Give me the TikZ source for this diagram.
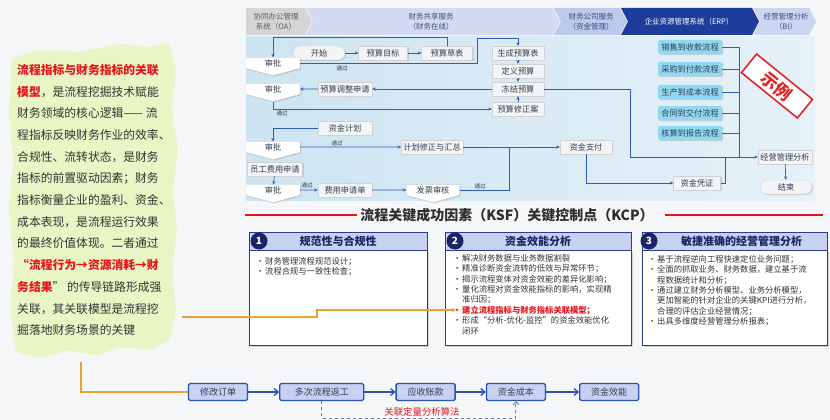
\documentclass[tikz,border=0pt]{standalone}
\usepackage{fontspec}
\setmainfont{Noto Sans CJK SC}
\usetikzlibrary{shapes.geometric, shapes.symbols, arrows.meta, positioning, calc, shadows}

\definecolor{bgpaper}{HTML}{F5F6F8}
\definecolor{greenblob}{HTML}{E9F5C4}
\definecolor{bodytext}{HTML}{333333}
\definecolor{keyred}{HTML}{E8141C}
\definecolor{panelA}{HTML}{CDE4F2}
\definecolor{panelB}{HTML}{E6F1F8}
\definecolor{hdrOA}{HTML}{D5D5D5}
\definecolor{hdrFS}{HTML}{D3DAF2}
\definecolor{hdrFC}{HTML}{BCC8EC}
\definecolor{hdrERP}{HTML}{1E3D9B}
\definecolor{hdrBI}{HTML}{CDD6F1}
\definecolor{hdrtext}{HTML}{3E4C7C}
\definecolor{flowblue}{HTML}{2F5DBA}
\definecolor{boxgray}{HTML}{F2F4F6}
\definecolor{boxtext}{HTML}{333F4F}
\definecolor{erpcyan}{HTML}{8FD9F3}
\definecolor{stampred}{HTML}{E0262B}
\definecolor{ksfnavy}{HTML}{1A2466}
\definecolor{ksfline}{HTML}{2C3C8C}
\definecolor{ksfheadfill}{HTML}{C9D1F0}
\definecolor{chainfill}{HTML}{C6D1F3}
\definecolor{chainline}{HTML}{2B52B3}
\definecolor{hintorange}{HTML}{F0A030}
\definecolor{dashblue}{HTML}{6B7FAF}

\newcommand{\ksfbul}{\makebox[9pt][l]{•}}
\newcommand{\ksfgap}{\hspace*{9pt}}

\begin{document}
\begin{tikzpicture}[x=1pt, y=-1pt, font=\fontsize{8.2}{10}\selectfont]
        \tikzstyle{fbox} = [rectangle, draw=gray!35, fill=boxgray, text=boxtext, minimum height=14, inner sep=2pt, drop shadow={shadow xshift=1pt, shadow yshift=-1pt, opacity=0.3}]
        \tikzstyle{pill} = [fbox, rounded corners=7pt]
        \tikzstyle{approve} = [shape=signal, signal to=south, signal pointer angle=150, draw=gray!35, fill=white, text=boxtext, minimum width=54, minimum height=12, inner sep=1.5pt, drop shadow={shadow xshift=1pt, shadow yshift=-1pt, opacity=0.3}]
        \tikzstyle{erpbox} = [rectangle, rounded corners=1.5pt, fill=erpcyan, text=boxtext, minimum width=64, minimum height=14, inner sep=2pt, drop shadow={shadow xshift=1pt, shadow yshift=-1pt, opacity=0.3}]
        \tikzstyle{passlbl} = [font=\fontsize{5.5}{6}\selectfont, text=bodytext, inner sep=0.5pt]
        \tikzstyle{hdrlbl} = [align=center, font=\fontsize{7.5}{9.5}\selectfont, text=hdrtext]
        \tikzstyle{flow} = [draw=flowblue, line width=0.7pt, -{Stealth[length=3.5pt, width=3.2pt]}]
        \tikzstyle{link} = [draw=flowblue, line width=0.7pt]
        \tikzstyle{ksfhead} = [rectangle, draw=ksfline, line width=0.9pt, fill=ksfheadfill, text=ksfnavy, minimum height=18, font=\bfseries\fontsize{11}{12}\selectfont]
        \tikzstyle{ksfbody} = [rectangle, draw=ksfline, line width=0.9pt, fill=white, drop shadow={shadow xshift=1.5pt, shadow yshift=-1.5pt, opacity=0.3}]
        \tikzstyle{ksftext} = [anchor=north west, align=left, inner sep=0pt, text=bodytext, font=\fontsize{8.3}{10.4}\selectfont]
        \tikzstyle{numdot} = [circle, fill=ksfnavy, text=white, minimum size=17, inner sep=0pt, font=\bfseries\fontsize{10}{10}\selectfont]
        \tikzstyle{chainbox} = [rectangle, rounded corners=1.5pt, draw=chainline, line width=1.3pt, fill=chainfill, text=boxtext, minimum width=59, minimum height=17, inner sep=2pt, font=\fontsize{9}{10}\selectfont]
        \tikzstyle{chain} = [draw=chainline, line width=1.3pt, -{Straight Barb[length=4pt, width=7pt]}]
        \tikzstyle{hint} = [draw=hintorange, line width=1.2pt]

        \useasboundingbox (0,0) rectangle (830,420);
        \fill[bgpaper] (0,0) rectangle (830,420);

        % left note
        \fill[greenblob, rounded corners=4pt] (12,58) -- (40,50) -- (80,52) -- (118,44) -- (150,47) -- (170,42) -- (176,70) -- (172,110) -- (178,150) -- (173,190) -- (177,230) -- (172,270) -- (176,310) -- (170,340) -- (150,350) -- (120,347) -- (96,356) -- (70,350) -- (40,358) -- (16,352) -- (10,310) -- (14,260) -- (9,210) -- (13,160) -- (9,110) -- cycle;
        \node (story) [anchor=north west, align=left, inner sep=0pt, text=bodytext, font=\fontsize{11.8}{21.7}\selectfont] at (17,64) {%
{\color{keyred}\bfseries 流程指标与财务指标的关联}\\
{\color{keyred}\bfseries 模型}，是流程挖掘技术赋能\\
财务领域的核心逻辑—— 流\\
程指标反映财务作业的效率、\\
合规性、流转状态，是财务\\
指标的前置驱动因素；财务\\
指标衡量企业的盈利、资金、\\
成本表现，是流程运行效果\\
的最终价值体现。二者通过\\
{\color{keyred}\bfseries “流程行为→资源消耗→财}\\
{\color{keyred}\bfseries 务结果}”\ 的传导链路形成强\\
关联，其关联模型是流程挖\\
掘落地财务场景的关键};

        % system panel
        \shade[left color=panelA, right color=panelB] (246,37) rectangle (815,200);
        \fill[hdrOA] (246,8) -- (305,8) -- (312,21.5) -- (305,35) -- (246,35) -- cycle;
        \fill[hdrFS] (306,8) -- (553,8) -- (560,21.5) -- (553,35) -- (306,35) -- (313,21.5) -- cycle;
        \fill[hdrFC] (554,8) -- (620,8) -- (627,21.5) -- (620,35) -- (554,35) -- (561,21.5) -- cycle;
        \fill[hdrERP] (621,8) -- (752,8) -- (759,21.5) -- (752,35) -- (621,35) -- (628,21.5) -- cycle;
        \fill[hdrBI] (753,8) -- (809,8) -- (816,21.5) -- (809,35) -- (753,35) -- (760,21.5) -- cycle;
        \node (hdroa) [hdrlbl, text=bodytext!80] at (276,21.5) {协同办公管理\\系统（OA）};
        \node (hdrfs) [hdrlbl] at (431,21.5) {财务共享服务\\（财务在线）};
        \node (hdrfc) [hdrlbl] at (591,21.5) {财务公司服务\\（资金管理）};
        \node (hdrerp) [hdrlbl, text=white] at (689,21.5) {企业资源管理系统（ERP）};
        \node (hdrbi) [hdrlbl] at (786,21.5) {经营管理分析\\（BI）};

        % budget flow
        \node (start) [pill, minimum width=52] at (319,53) {开始};
        \node (btarget) [fbox, minimum width=49] at (383,53) {预算目标};
        \node (bdraft) [fbox, minimum width=51] at (447,53) {预算草表};
        \node (bgen) [fbox, minimum width=52] at (518,53) {生成预算表};
        \node (bdef) [fbox, minimum width=52] at (518,71) {定义预算};
        \node (bfreeze) [fbox, minimum width=52] at (518,89) {冻结预算};
        \node (bamend) [fbox, minimum width=52] at (518,109) {预算修正案};
        \node (apv1) [approve] at (273,63) {审批};
        \node (apv2) [approve] at (273,89) {审批};
        \node (badjust) [fbox, minimum width=54] at (345,89) {预算调整申请};

        % fund flow
        \node (fplan) [fbox, minimum width=54] at (345,128) {资金计划};
        \node (apv3) [approve] at (273,147) {审批};
        \node (plansum) [fbox, minimum width=61] at (432,147) {计划修正与汇总};
        \node (staffreq) [fbox, minimum width=55] at (275,169) {员工费用申请};
        \node (apv4) [approve] at (273,190) {审批};
        \node (expform) [fbox, minimum width=54] at (345,190) {费用申请单};
        \node (invchk) [approve, minimum width=53] at (433,190) {发票审核};
        \node (fpay) [fbox, minimum width=52] at (586,147) {资金支付};
        \node (fvoucher) [fbox, minimum width=47] at (697,183) {资金凭证};

        % erp + bi
        \node (erp1) [erpbox] at (690,47) {销售到收款流程};
        \node (erp2) [erpbox] at (690,69) {采购到付款流程};
        \node (erp3) [erpbox] at (690,92) {生产到成本流程};
        \node (erp4) [erpbox] at (690,113) {合同到交付流程};
        \node (erp5) [erpbox] at (690,133) {核算到报告流程};
        \node (bizana) [fbox, minimum width=54] at (785,157) {经营管理分析};
        \node (finish) [pill, minimum width=52] at (786,187) {结束};
        \node (stamp) [draw=stampred, line width=1.6pt, fill=white, rotate=-39, minimum width=72, minimum height=24, inner sep=1pt, text=stampred, font=\bfseries\fontsize{17}{17}\selectfont] at (777,86) {示例};

        \node (pass1) [passlbl] at (342,68) {通过};
        \node (pass2) [passlbl] at (282,113) {通过};
        \node (pass3) [passlbl] at (337,143) {通过};
        \node (pass4) [passlbl] at (307,185) {通过};
        \node (pass5) [passlbl] at (480,186) {通过};

        \coordinate (rise) at (477,38);
        \coordinate (erpdrop) at (630,157);
        \coordinate (erpbus) at (739,157);
        \coordinate (invjoin) at (509,147);
        \coordinate (vjoin) at (725,157);

        \draw [flow] (bdraft.north) -- ++(0,-8) -| (apv1.north);
        \draw [flow] (apv1.east) -| (rise) -| (bgen.north);
        \draw [flow] (start) -- (btarget);
        \draw [flow] (btarget) -- (bdraft);
        \draw [flow] (bgen) -- (bdef);
        \draw [flow] (bdef) -- (bfreeze);
        \draw [flow] (bamend) -- (bfreeze);
        \draw [flow] (bfreeze) -- (badjust);
        \draw [flow] (badjust) -- (apv2);
        \draw [flow] (apv2.south) |- (bamend.west);
        \draw [flow] (bfreeze.east) -| (erpdrop) -- (bizana.west);
        \foreach \i in {1,...,5}
            \draw [link] (erp\i.east) -| (erpbus);
        \draw [flow] (fplan.west) -| (apv3.north);
        \draw [flow] (apv3) -- (plansum);
        \draw [flow] (plansum) -- (fpay);
        \draw [link] (invchk.east) -| (invjoin);
        \draw [flow] (staffreq) -- (apv4);
        \draw [flow] (apv4) -- (expform);
        \draw [flow] (expform) -- (invchk);
        \draw [flow] (fpay.south) |- (fvoucher.west);
        \draw [link] (fvoucher.east) -| (vjoin);
        \draw [flow] (bizana) -- (finish);

        % KSF / KCP
        \node (title) [text=bodytext!90!black, font=\bfseries\fontsize{14}{16}\selectfont] at (507,215) {流程关键成功因素（KSF）关键控制点（KCP）};
        \draw [draw=keyred, line width=1.3pt] (245,215) -- (357,215);
        \draw [draw=keyred, line width=1.3pt] (665,215) -- (823,215);

        \node (ksf1body) [ksfbody, minimum width=178, minimum height=95, anchor=north] at (338,250) {};
        \node (ksf2body) [ksfbody, minimum width=186, minimum height=95, anchor=north] at (538,250) {};
        \node (ksf3body) [ksfbody, minimum width=185, minimum height=95, anchor=north] at (734.5,250) {};
        \node (ksf1head) [ksfhead, minimum width=178] at (338,241) {规范性与合规性};
        \node (ksf2head) [ksfhead, minimum width=186] at (538,241) {资金效能分析};
        \node (ksf3head) [ksfhead, minimum width=185] at (734.5,241) {\hspace{14pt}敏捷准确的经营管理分析};
        \node (ksf1num) [numdot] at (259,241) {1};
        \node (ksf2num) [numdot] at (455,241) {2};
        \node (ksf3num) [numdot] at (649,241) {3};

        \node (ksf1text) [ksftext] at (256,257) {%
\ksfbul 财务管理流程规范设计；\\
\ksfbul 流程合规与一致性检查；};
        \node (ksf2text) [ksftext] at (453,254) {%
\ksfbul 解决财务数据与业务数据割裂\\
\ksfbul 精准诊断资金流转的低效与异常环节；\\
\ksfbul 揭示流程变体对资金效能的差异化影响；\\
\ksfbul 量化流程对资金效能指标的影响，实现精\\
\ksfgap 准归因；\\
{\color{keyred}\bfseries\ksfbul 建立流程指标与财务指标关联模型；}\\
\ksfbul 形成“分析-优化-监控”的资金效能优化\\
\ksfgap 闭环};
        \node (ksf3text) [ksftext] at (648,255) {%
\ksfbul 基于流程逆向工程快速定位业务问题；\\
\ksfbul 全面的抓取业务、财务数据，建立基于流\\
\ksfgap 程数据统计和分析；\\
\ksfbul 通过建立财务分析模型、业务分析模型，\\
\ksfgap 更加智能的针对企业的关键KPI进行分析，\\
\ksfgap 合理的评估企业经营情况；\\
\ksfbul 出具多维度经营管理分析报表；};

        % cost chain
        \node (modorder) [chainbox] at (218,392) {修改订单};
        \node (rework) [chainbox, minimum width=84, right=31pt of modorder] {多次流程返工};
        \node (receivable) [chainbox, right=31pt of rework] {应收账款};
        \node (fcost) [chainbox, right=30pt of receivable] {资金成本};
        \node (feff) [chainbox, right=33pt of fcost] {资金效能};
        \draw [chain] (modorder) -- (rework);
        \draw [chain] (rework) -- (receivable);
        \draw [chain] (receivable) -- (fcost);
        \draw [chain] (fcost) -- (feff);
        \draw [draw=dashblue, line width=0.9pt, dashed, -{Straight Barb[length=3pt, width=6pt]}] (rework.south) -- ++(0,17) -| (fcost.south);
        \node (algo) [text=keyred, font=\fontsize{9.4}{10}\selectfont, inner sep=0.5pt] at (422,412) {关联定量分析算法};

        % hint lines
        \coordinate (greenedge) at (182,317);
        \coordinate (redhint) at (456,310);
        \coordinate (greenfoot) at (81,362);
        \draw [hint, -{Stealth[length=4pt, width=4pt]}] (greenedge) -- (317,317) -- (317,310) -- (redhint);
        \draw [hint] (greenfoot) |- (modorder.west);
    \end{tikzpicture}
\end{document}
